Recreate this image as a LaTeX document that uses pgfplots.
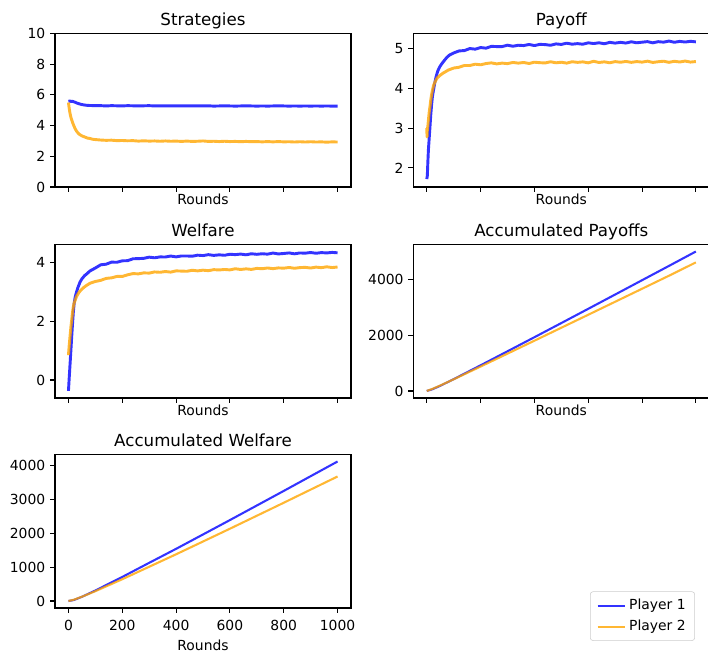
\documentclass[border=0pt]{standalone}
\usepackage{fontspec}
\setmainfont{DejaVu Sans}
\usepackage{pgfplots}
\pgfplotsset{compat=1.18}
\definecolor{mblue}{RGB}{0,0,255}
\definecolor{morange}{RGB}{255,165,0}
\pgfplotsset{
  sub/.style={
    width=213.12pt, height=110.5pt, scale only axis, anchor=south west,
    xmin=-50, xmax=1050, xtick={0,200,400,600,800,1000},
    tick align=outside, tick pos=left,
    major tick length=3.5pt,
    major tick style={line width=0.8pt, black},
    axis line style={line width=0.8pt, black},
    scaled ticks=false,
    /pgf/number format/1000 sep={},
    /pgf/number format/assume math mode=true,
    ticklabel style={font=\fontsize{10}{12}\selectfont},
    title style={at={(0.5,1)}, anchor=base, yshift=0pt, inner sep=0pt, font=\fontsize{12}{14}\selectfont},
    xlabel=Rounds,
    label style={font=\fontsize{10}{12}\selectfont},
  },
  upper/.style={sub, xticklabels={},
    xlabel style={at={(0.5,0)}, anchor=north, inner sep=0pt, yshift=-4.7pt}},
  p1/.style={mblue, opacity=0.8, line width=2.1pt, line join=round},
  p2/.style={morange, opacity=0.8, line width=2.1pt, line join=round},
  q1/.style={mblue, opacity=0.8, line width=1.5pt},
  q2/.style={morange, opacity=0.8, line width=1.5pt},
}
\begin{document}
\begin{tikzpicture}
\useasboundingbox (0,0) rectangle (509.76pt,470.88pt);
% Strategies
\begin{axis}[upper, at={(39.6pt,336.24pt)}, title={Strategies}, ymin=0, ymax=10, ytick={0,2,4,6,8,10}]
\addplot[p1] coordinates {(0,5.58)(5,5.60)(10,5.57)(15,5.58)(20,5.55)(25,5.52)(30,5.48)(40,5.42)(50,5.37)(60,5.34)(70,5.32)(80,5.31)(100,5.30)
(120,5.30)(140,5.28)(160,5.30)(180,5.29)(200,5.28)(220,5.30)(240,5.29)(260,5.28)(280,5.29)(300,5.30)(320,5.28)(340,5.29)(360,5.28)(380,5.29)(400,5.28)(420,5.29)(440,5.28)(460,5.29)(480,5.28)(500,5.28)(520,5.29)(540,5.27)(560,5.28)(580,5.29)(600,5.28)(620,5.27)(640,5.28)(660,5.29)(680,5.28)(700,5.27)(720,5.28)(740,5.27)(760,5.28)(780,5.29)(800,5.28)(820,5.27)(840,5.28)(860,5.27)(880,5.28)(900,5.27)(920,5.28)(940,5.27)(960,5.28)(980,5.27)(1000,5.27)};
\addplot[p2] coordinates {(0,5.50)(2,5.22)(4,4.98)(6,4.78)(8,4.62)(10,4.48)(13,4.33)(16,4.17)(20,3.99)(25,3.79)(30,3.64)(35,3.53)(40,3.44)(50,3.33)(60,3.26)(70,3.19)(80,3.16)(90,3.11)(100,3.09)
(120,3.06)(140,3.04)(160,3.05)(180,3.02)(200,3.03)(220,3.01)(240,3.02)(260,2.99)(280,3.01)(300,2.99)(320,3.00)(340,2.98)(360,3.00)(380,2.98)(400,2.99)(420,2.97)(440,2.99)(460,2.97)(480,2.98)(500,3.00)(520,2.97)(540,2.98)(560,2.96)(580,2.98)(600,2.96)(620,2.97)(640,2.95)(660,2.97)(680,2.95)(700,2.96)(720,2.94)(740,2.96)(760,2.94)(780,2.96)(800,2.94)(820,2.95)(840,2.93)(860,2.95)(880,2.93)(900,2.95)(920,2.93)(940,2.94)(960,2.92)(980,2.94)(1000,2.93)};
\end{axis}
% Payoff
\begin{axis}[upper, at={(297.6pt,336.24pt)}, title={Payoff}, ymin=1.521, ymax=5.378, ytick={2,3,4,5}]
\addplot[p1] coordinates {(0,1.72)(2,1.80)(4,2.15)(6,2.45)(9,2.75)(12,3.05)(15,3.35)(18,3.60)(21,3.80)(25,3.96)(30,4.15)(35,4.30)(40,4.42)(45,4.50)(50,4.56)(56,4.62)(65,4.70)(75,4.78)(85,4.84)(100,4.89)
(120,4.94)(140,4.95)(160,5.00)(180,4.985)(200,5.025)(220,5.01)(240,5.055)(260,5.05)(280,5.05)(300,5.085)(320,5.058)(340,5.083)(360,5.075)(380,5.103)(400,5.075)(420,5.105)(440,5.10)(460,5.082)(480,5.117)(500,5.104)(520,5.135)(540,5.11)(560,5.124)(580,5.109)(600,5.144)(620,5.126)(640,5.145)(660,5.12)(680,5.156)(700,5.137)(720,5.156)(740,5.138)(760,5.17)(780,5.145)(800,5.16)(820,5.174)(840,5.144)(860,5.173)(880,5.161)(900,5.188)(920,5.158)(940,5.18)(960,5.164)(980,5.182)(1000,5.168)};
\addplot[p2] coordinates {(0,3.00)(1,2.78)(2,2.95)(4,3.05)(6,3.20)(9,3.40)(12,3.55)(15,3.72)(18,3.85)(21,3.95)(25,4.07)(30,4.15)(35,4.22)(40,4.27)(50,4.33)(60,4.38)(70,4.42)(80,4.46)(100,4.51)
(120,4.53)(140,4.575)(160,4.575)(180,4.607)(200,4.592)(220,4.623)(240,4.64)(260,4.615)(280,4.634)(300,4.621)(320,4.651)(340,4.634)(360,4.65)(380,4.625)(400,4.657)(420,4.645)(440,4.638)(460,4.668)(480,4.642)(500,4.656)(520,4.634)(540,4.669)(560,4.653)(580,4.665)(600,4.641)(620,4.68)(640,4.65)(660,4.666)(680,4.642)(700,4.672)(720,4.656)(740,4.676)(760,4.653)(780,4.673)(800,4.659)(820,4.683)(840,4.651)(860,4.669)(880,4.682)(900,4.654)(920,4.68)(940,4.662)(960,4.686)(980,4.66)(1000,4.674)};
\end{axis}
% Welfare
\begin{axis}[upper, at={(39.6pt,184.32pt)}, title={Welfare}, ymin=-0.612, ymax=4.621, ytick={0,2,4}]
\addplot[p1] coordinates {(0,-0.37)(3,0.10)(6,0.55)(9,1.00)(12,1.47)(15,1.90)(18,2.30)(21,2.60)(25,2.83)(30,3.00)(35,3.15)(43,3.34)(50,3.45)(60,3.56)(68,3.62)(80,3.72)(100,3.82)
(120,3.93)(140,3.95)(160,4.02)(180,4.015)(200,4.065)(220,4.07)(240,4.135)(260,4.14)(280,4.15)(300,4.19)(320,4.168)(340,4.198)(360,4.195)(380,4.228)(400,4.20)(420,4.23)(440,4.23)(460,4.222)(480,4.257)(500,4.244)(520,4.275)(540,4.25)(560,4.269)(580,4.254)(600,4.289)(620,4.276)(640,4.295)(660,4.27)(680,4.306)(700,4.287)(720,4.306)(740,4.293)(760,4.33)(780,4.30)(800,4.315)(820,4.334)(840,4.304)(860,4.333)(880,4.326)(900,4.348)(920,4.323)(940,4.345)(960,4.334)(980,4.352)(1000,4.338)};
\addplot[p2] coordinates {(0,0.85)(3,1.20)(6,1.50)(9,1.80)(12,2.04)(15,2.30)(18,2.50)(21,2.62)(25,2.72)(30,2.85)(40,3.00)(50,3.10)(60,3.18)(68,3.23)(80,3.30)(100,3.36)
(120,3.40)(140,3.465)(160,3.485)(180,3.532)(200,3.532)(220,3.588)(240,3.63)(260,3.62)(280,3.654)(300,3.646)(320,3.686)(340,3.674)(360,3.70)(380,3.68)(400,3.722)(420,3.715)(440,3.708)(460,3.743)(480,3.722)(500,3.746)(520,3.729)(540,3.764)(560,3.753)(580,3.77)(600,3.756)(620,3.795)(640,3.77)(660,3.791)(680,3.772)(700,3.807)(720,3.796)(740,3.821)(760,3.798)(780,3.823)(800,3.814)(820,3.838)(840,3.811)(860,3.834)(880,3.842)(900,3.819)(920,3.85)(940,3.832)(960,3.861)(980,3.835)(1000,3.854)};
\end{axis}
% Accumulated Payoffs
\begin{axis}[upper, at={(297.6pt,184.32pt)}, title={Accumulated Payoffs}, ymin=-250, ymax=5250, ytick={0,2000,4000}]
\addplot[q1] coordinates {(0,1.7)(20,60)(50,187)(100,425)(200,921)(300,1424)(400,1928)(500,2436)(600,2946)(700,3458)(800,3971)(900,4484)(1000,5000)};
\addplot[q2] coordinates {(0,3)(20,72)(50,198)(100,420)(200,877)(300,1340)(400,1803)(500,2268)(600,2733)(700,3199)(800,3665)(900,4132)(1000,4610)};
\end{axis}
% Accumulated Welfare
\begin{axis}[sub, at={(39.6pt,33.12pt)}, title={Accumulated Welfare}, ymin=-206, ymax=4324, ytick={0,1000,2000,3000,4000},
  xticklabel style={yshift=-1.5pt},
  legend style={at={(2.162,-0.214)}, anchor=south east, draw=black!20, rounded corners=2pt, fill=white,
    font=\fontsize{10}{12}\selectfont, inner xsep=4.5pt, inner ysep=3.5pt, row sep=2pt},
  legend cell align=left,
  legend image code/.code={\draw[#1] (0pt,0pt) -- (20pt,0pt);}]
\addplot[q1] coordinates {(0,-0.3)(20,30)(50,124)(100,310)(200,710)(300,1127)(400,1540)(500,1964)(600,2389)(700,2819)(800,3249)(900,3684)(1000,4118)};
\addlegendentry{Player 1}
\addplot[q2] coordinates {(0,0.9)(20,38)(50,126)(100,290)(200,643)(300,1011)(400,1379)(500,1756)(600,2134)(700,2517)(800,2900)(900,3288)(1000,3675)};
\addlegendentry{Player 2}
\end{axis}
\end{tikzpicture}
\end{document}
